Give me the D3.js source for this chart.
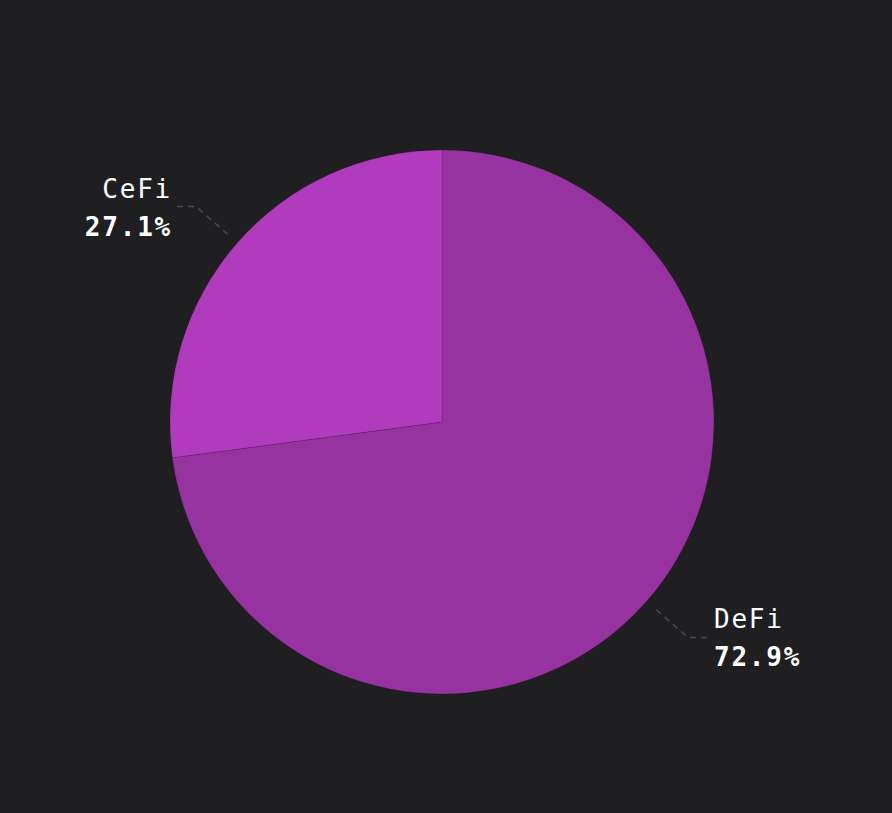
<!DOCTYPE html>
<html>
<head>
<meta charset="utf-8">
<script src="https://cdn.jsdelivr.net/npm/d3@7"></script>
<style>
  html,body{margin:0;padding:0;background:#1f1f21;}
</style>
</head>
<body>
<div class="pie"></div>
<script>
// data
var categories=['DeFi','CeFi'];
var values=[72.9,27.1];
var colors=['#9733a0','#b03bbd'];

var width=892;
var height=813;
var cx=442,cy=422,radius=272;

var data=categories.map(function(c,i){
	return {name:c,value:values[i],color:colors[i]};
});

var svg=d3.select('div.pie')
		.append('svg')
		.attr('width',width)
		.attr('height',height)
		.style('display','block')
		.style('background','#1f1f21');

var g=svg.append('g')
		.attr('transform','translate('+cx+','+cy+')');

var pie=d3.pie()
		.sort(null)
		.value(function(d){return d.value;});

var arc=d3.arc()
		.innerRadius(0)
		.outerRadius(radius);

var arcs=pie(data);

g.selectAll('path.slice')
	.data(arcs)
	.enter()
	.append('path')
	.attr('class','slice')
	.attr('d',arc)
	.attr('fill',function(d){return d.data.color;})
	.attr('stroke','rgba(0,0,0,0.12)')
	.attr('stroke-width',1);

//引线
var r1=radius+13,r2=radius+55,hook=20;
arcs.forEach(function(d){
	var a=(d.startAngle+d.endAngle)/2;
	var sx=Math.sin(a),sy=-Math.cos(a);
	var side=sx>=0?1:-1;
	var p1=[sx*r1,sy*r1];
	var p2=[sx*r2,sy*r2];
	var p3=[p2[0]+side*hook,p2[1]];
	g.append('polyline')
		.attr('points',[p1,p2,p3].map(function(p){return p.join(',');}).join(' '))
		.attr('fill','none')
		.attr('stroke','#4a4a4c')
		.attr('stroke-width',1.5)
		.attr('stroke-dasharray','6,5');

	var tx=p3[0]+side*6;
	var t=g.append('text')
		.attr('x',tx)
		.attr('text-anchor',side>0?'start':'end')
		.attr('fill','#ffffff')
		.attr('font-family','"DejaVu Sans Mono", monospace')
		.attr('font-size','26px')
		.style('letter-spacing','1.8px');
	t.append('tspan')
		.attr('x',tx+(side>0?0:2))
		.attr('y',p2[1]-9)
		.text(d.data.name);
	t.append('tspan')
		.attr('x',tx+(side>0?0:2))
		.attr('y',p2[1]+29)
		.attr('font-weight','bold')
		.text(d3.format('.1f')(d.data.value)+'%');
});
</script>
</body>
</html>
